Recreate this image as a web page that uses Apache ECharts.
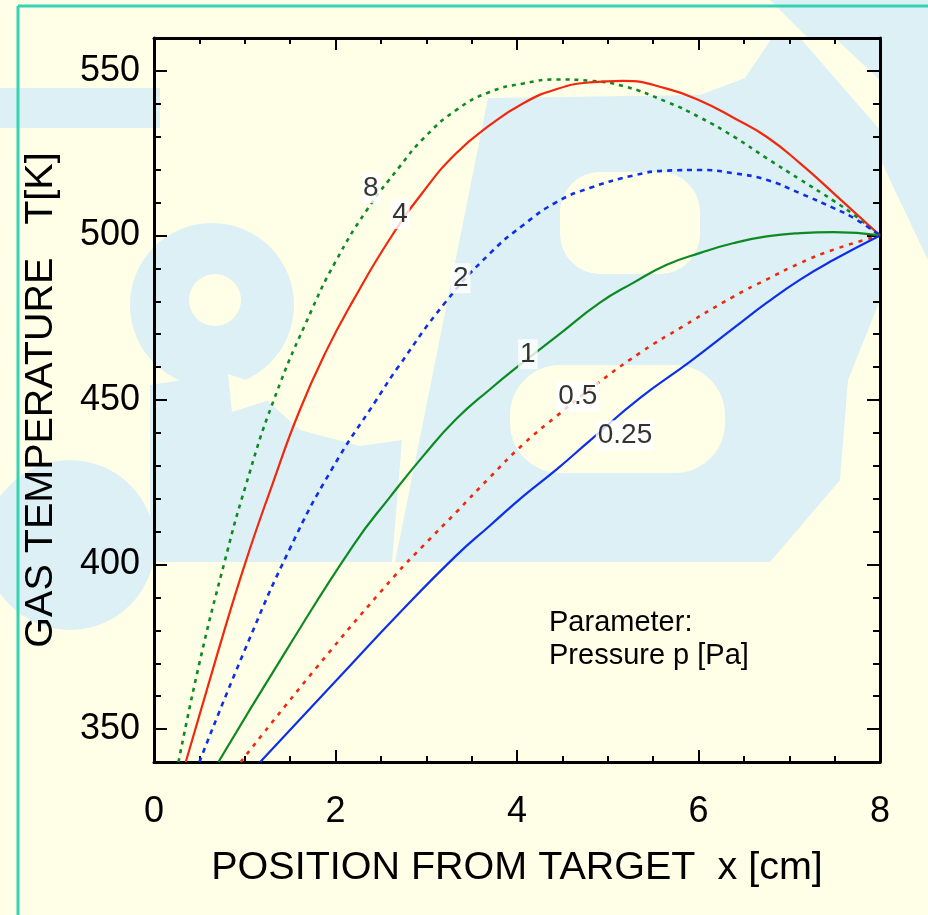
<!DOCTYPE html>
<html>
<head>
<meta charset="utf-8">
<script src="https://cdn.jsdelivr.net/npm/echarts@6/dist/echarts.min.js"></script>
<style>
html,body{margin:0;padding:0;background:#FFFFE8;}
#chart{width:928px;height:915px;}
</style>
</head>
<body>
<div id="chart"></div>
<script>
// ---- data (x in cm, T in K) ----
const p8 = [[0.27,340],[0.5,370],[0.77,400],[1.0,423],[1.32,450],[1.74,477.5],[2.0,492],[2.34,507.5],[2.71,521],[2.97,529.5],[3.33,538.1],[3.70,543.6],[4.07,546.2],[4.44,547.4],[4.80,547],[5.17,545.4],[5.65,540.6],[6.02,535.8],[6.39,530],[6.75,523.5],[7.12,517],[7.49,510.5],[7.75,505.5],[8,500]];
const p4 = [[0.35,340],[0.7,373],[1.0,400],[1.3,424],[1.6,446.5],[1.9,465],[2.2,480.5],[2.6,499],[2.97,513.4],[3.33,525],[3.7,533.5],[4.07,540.2],[4.44,544.5],[4.8,546.5],[5.17,547],[5.65,544.6],[6.02,540.9],[6.39,535.7],[6.75,530],[7.12,521.9],[7.49,512.8],[8,500]];
const p2 = [[0.50,340],[1.0,374],[1.5,405],[1.96,429],[2.45,450],[2.69,460],[3.22,480],[3.70,494.5],[4.07,503.2],[4.44,510.2],[4.80,514.4],[5.28,518.2],[5.65,519.7],[6.02,519.9],[6.39,518.9],[6.75,516.9],[7.12,512.8],[7.49,508.3],[7.71,505.3],[8,500]];
const p1 = [[0.71,340],[1.46,374],[2.2,406],[2.6,420.5],[2.97,433.1],[3.33,444.2],[3.70,453.2],[4.07,461.5],[4.44,469.4],[4.91,479.5],[5.28,485.6],[5.65,491.1],[6.02,494.7],[6.39,497.7],[6.75,499.7],[7.12,500.7],[7.49,501],[8,500]];
const p05 = [[0.955,340],[1.8,369],[2.65,396.5],[2.97,405.8],[3.33,415.9],[3.70,426.5],[4.07,436.6],[4.44,445.2],[4.80,453.2],[5.36,464.4],[5.83,472.4],[6.39,481.5],[6.75,486.6],[7.12,491.6],[7.49,495.7],[8,500]];
const p025 = [[1.17,340],[2.0,364.5],[2.71,385.4],[3.33,402.7],[3.70,411.8],[4.07,420.8],[4.44,429],[4.80,437.6],[5.36,450.7],[5.9,461.5],[6.39,471.9],[6.75,479.5],[7.12,486.6],[7.49,492.6],[8,500]];
const curveLabels = [['8',2.39,514.4],['4',2.71,506.5],['2',3.38,487],['1',4.12,463.9],['0.5',4.67,451],['0.25',5.19,439.3]];
const xMajorTicks = [0,2,4,6,8];
const yMajorTicks = [350,400,450,500,550];
const yMinorTicks = [340,350,360,370,380,390,400,410,420,430,440,450,460,470,480,490,500,510,520,530,540,550,560];
const xTitle = 'POSITION FROM TARGET  x [cm]';
const yTitle = 'GAS TEMPERATURE   T[K]';
const noteLines = ['Parameter:', 'Pressure p [Pa]'];

// ---- styles ----
const RED = '#F0280E', GREEN = '#0E8A24', BLUE = '#0E2FE8';
const FONT = 'Liberation Sans, Arial, Helvetica, sans-serif';
const WM = '#DCF0F5', BG = '#FFFFE8';

const chart = echarts.init(document.getElementById('chart'), null, {renderer:'canvas'});

function yAx(pos, ticks, len, withLine, withLabel){
  return {
    type:'value', position:pos, min:340, max:560, interval:10,
    axisLine:{show:withLine, onZero:false, lineStyle:{color:'#000', width:3}},
    axisTick:{show:true, inside:true, length:len, customValues:ticks, lineStyle:{color:'#000', width:2}},
    axisLabel:{show:withLabel, customValues:yMajorTicks, margin:14, color:'#000', fontSize:36, fontFamily:FONT},
    splitLine:{show:false},
    name: withLabel ? yTitle : '', nameLocation:'middle', nameGap:93,
    nameTextStyle:{color:'#000', fontSize:39.5, fontFamily:FONT}
  };
}
function xAx(pos, withLabel){
  return {
    type:'value', position:pos, min:0, max:8, interval:2,
    axisLine:{show:true, onZero:false, lineStyle:{color:'#000', width:3}},
    axisTick:{show:true, inside:true, length:12, lineStyle:{color:'#000', width:2}},
    minorTick:{show:true, splitNumber:4, length:6, lineStyle:{color:'#000', width:2}},
    axisLabel:{show:withLabel, margin:32, color:'#000', fontSize:36, fontFamily:FONT},
    splitLine:{show:false}, minorSplitLine:{show:false},
    name: withLabel ? xTitle : '', nameLocation:'middle', nameGap:86,
    nameTextStyle:{color:'#000', fontSize:39.5, fontFamily:FONT}
  };
}

function lineSeries(name, data, color, type){
  return {
    name, type:'line', data, xAxisIndex:0, yAxisIndex:0,
    showSymbol:false, symbol:'none', smooth:0.5, clip:true, z:3,
    lineStyle:{color, width: type==='solid'?2.2:2.6, type}
  };
}

// faint background logo (decoration only)
const wmShapes = [
  {type:'rect', shape:{x:0,y:88,width:160,height:40}},
  {type:'circle', shape:{cx:212,cy:305,r:82}},
  {type:'polygon', shape:{points:[[150,385],[235,372],[300,430],[360,446],[402,440],[392,562],[150,562]]}},
  {type:'circle', shape:{cx:70,cy:545,r:85}},
  {type:'polygon', shape:{points:[[395,562],[488,98],[700,95],[745,78],[772,38],[880,38],[880,300],[848,380],[840,480],[770,562]]}},
  {type:'polygon', shape:{points:[[770,0],[928,0],[928,260],[890,180],[840,70]]}}
];
const wmHoles = [
  {type:'circle', shape:{cx:215,cy:300,r:26}},
  {type:'polygon', shape:{points:[[228,374],[288,394],[232,412]]}},
  {type:'rect', shape:{x:560,y:172,width:140,height:102,r:40}},
  {type:'rect', shape:{x:510,y:365,width:215,height:108,r:50}},
  {type:'polygon', shape:{points:[[800,38],[835,38],[880,80],[880,130]]}}
];

const graphics = [];
wmShapes.forEach(s=>graphics.push(Object.assign({}, s, {z:-20, silent:true, style:{fill:WM}})));
wmHoles.forEach(s=>graphics.push(Object.assign({}, s, {z:-19, silent:true, style:{fill:BG}})));
graphics.push({type:'line', z:10, shape:{x1:18,y1:6,x2:928,y2:6}, style:{stroke:'#33D3B4', lineWidth:3}});
graphics.push({type:'line', z:10, shape:{x1:18,y1:6,x2:18,y2:915}, style:{stroke:'#33D3B4', lineWidth:3}});
graphics.push({type:'text', z:10, left:549, top:606, style:{text:noteLines.join('\n'), fill:'#000', font:'29px '+FONT, lineHeight:33}});

chart.setOption({
  backgroundColor:BG,
  animation:false,
  grid:{left:154, top:38, width:726, height:724, containLabel:false},
  xAxis:[xAx('bottom', true), xAx('top', false)],
  yAxis:[yAx('left', yMinorTicks, 7, true, true), yAx('left', yMajorTicks, 13, false, false),
         yAx('right', yMinorTicks, 7, true, false), yAx('right', yMajorTicks, 13, false, false)],
  graphic:graphics,
  series:[
    lineSeries('8', p8, GREEN, [4,5]),
    lineSeries('4', p4, RED, 'solid'),
    lineSeries('2', p2, BLUE, [5,5]),
    lineSeries('1', p1, GREEN, 'solid'),
    lineSeries('0.5', p05, RED, [4,6]),
    lineSeries('0.25', p025, BLUE, 'solid'),
    {
      type:'scatter', xAxisIndex:0, yAxisIndex:0, z:5, symbolSize:0,
      data:curveLabels.map(d=>({value:[d[1],d[2]], name:d[0]})),
      label:{show:true, position:'inside', formatter:p=>p.name, color:'#000', fontSize:28, fontFamily:FONT,
             backgroundColor:'#fff', padding:[2,2,0,2]}
    }
  ]
});
</script>
</body>
</html>
